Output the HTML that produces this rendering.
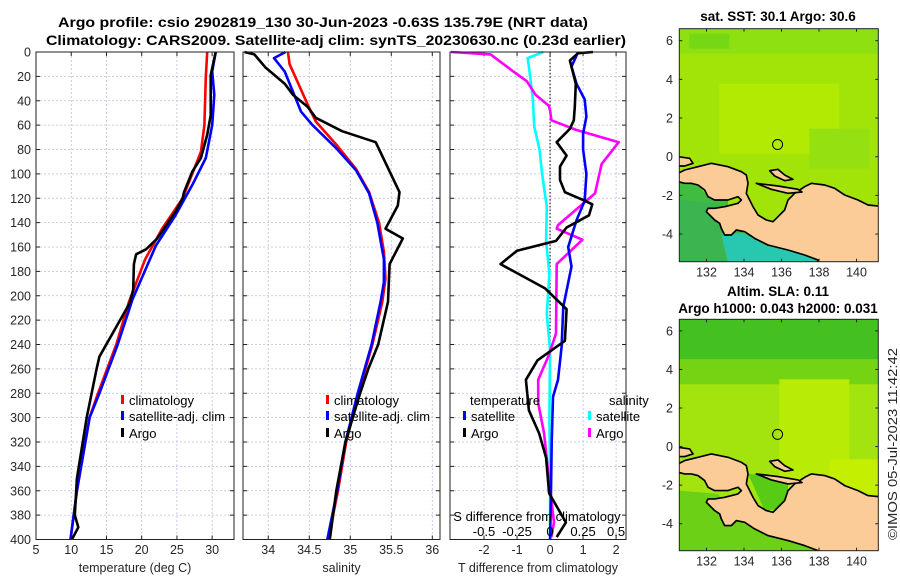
<!DOCTYPE html>
<html><head><meta charset="utf-8">
<style>
html,body{margin:0;padding:0;background:#fff;}
svg{display:block;font-family:"Liberation Sans",sans-serif;}
.tk{font-size:12.5px;fill:#262626;}
.ttl{font-size:13.5px;font-weight:bold;fill:#000;}
.lg{font-size:13px;fill:#000;}
</style></head>
<body>
<svg id="chart" width="900" height="580" viewBox="0 0 900 580" xmlns="http://www.w3.org/2000/svg">
<rect width="900" height="580" fill="#fff"/>
<text class="ttl" x="323" y="27" text-anchor="middle" textLength="530" lengthAdjust="spacingAndGlyphs">Argo profile: csio 2902819_130 30-Jun-2023 -0.63S 135.79E (NRT data)</text>
<text class="ttl" x="336" y="45" text-anchor="middle" textLength="580" lengthAdjust="spacingAndGlyphs">Climatology: CARS2009. Satellite-adj clim: synTS_20230630.nc (0.23d earlier)</text>
<g id="panels"></g>
<g id="maps"></g>
<text class="tk" transform="translate(897,444) rotate(-90)" text-anchor="middle" font-size="13" textLength="192" lengthAdjust="spacingAndGlyphs">©IMOS 05-Jul-2023 11:42:42</text>
</svg>
<script>
// ---- data ----
const tempDepths = [0,16,35,60,87,109,134,159,203,240,280,300,360,400];
const tempSat    = [30.5,30.0,30.3,30.0,29.1,27.2,24.8,22.0,18.7,16.6,14.0,12.6,10.8,9.9];
const climDepths = [0,21,60,82,120,145,170,205,240,280,300,360,400];
const tempClim   = [29.3,29.1,28.9,28.4,25.8,22.9,20.5,18.2,16.4,13.8,12.6,10.8,9.9];
const argoDepths = [0,19,52,68,87,98,115,120,131,153,162,166,174,195,206,250,260,300,350,380,390,400];
const tempArgo   = [30.5,29.8,29.8,29.3,28.4,27.2,26.0,25.8,24.8,22.2,20.6,19.2,18.9,18.8,18.3,14.0,13.6,12.2,10.8,10.5,11.0,10.1];

const salClimDepths = [0,10,46,57,76,96,115,140,164,186,205,240,280,320,360,400];
const salClim       = [34.24,34.26,34.5,34.58,34.83,35.07,35.23,35.35,35.41,35.43,35.39,35.27,35.1,34.95,34.85,34.73];
const salSatDepths  = [0,5,16,49,60,79,97,116,140,170,189,205,240,280,320,360,400];
const salSat        = [34.21,34.07,34.2,34.4,34.54,34.83,35.07,35.23,35.33,35.41,35.41,35.37,35.26,35.09,34.94,34.84,34.72];
const salArgoDepths = [0,2,13,26,35,45,54,65,74,115,126,145,153,174,205,240,260,280,320,360,400];
const salArgo       = [33.71,33.83,33.97,34.2,34.3,34.48,34.58,34.9,35.31,35.6,35.58,35.43,35.64,35.48,35.46,35.34,35.22,35.12,34.94,34.83,34.75];

const dTSatDepths = [0,12,26,39,53,67,80,100,122,138,160,176,209,242,269,283,320,360,400];
const dTSat       = [0.85,0.65,0.8,1.05,1.1,1.0,1.0,1.1,1.05,0.8,0.55,0.65,0.4,0.35,0.24,0.09,0.05,0.03,0.0];
const dTArgoDepths= [0,1,7,26,45,56,63,74,85,94,105,115,122,125,134,144,155,163,174,194,211,237,253,269,294,313,333,362,386,398];
const dTArgo      = [1.3,0.85,0.6,0.78,0.75,0.72,0.6,0.2,0.5,0.3,0.3,0.45,1.05,1.28,1.18,0.5,0.18,-1.0,-1.5,-0.15,0.5,0.45,-0.38,-0.73,-0.64,-0.33,-0.12,-0.03,0.48,0.2];
const dSSatDepths = [0,5,12,39,61,80,100,127,155,182,215,245,300,350,400];
const dSSat       = [-0.05,-0.17,-0.16,-0.13,-0.12,-0.08,-0.06,-0.025,-0.03,-0.005,-0.025,0.0,-0.005,0.0,0.0];
const dSArgoDepths= [0,2,15,24,35,44,48,56,64,74,92,116,142,145,154,174,231,249,269,288,313,349,386,398];
const dSArgo      = [-0.75,-0.45,-0.29,-0.175,-0.11,-0.01,0,0.01,0.2,0.52,0.39,0.34,0.06,0.05,0.245,0.05,0.045,-0.01,-0.09,-0.09,-0.045,-0.01,0.03,0.01];

const depthTicks = [0,20,40,60,80,100,120,140,160,180,200,220,240,260,280,300,320,340,360,380,400];
const tempTicks = [5,10,15,20,25,30];
const salTicks = [34,34.5,35,35.5,36];
const dTTicks = [-2,-1,0,1,2];
const dSTicks = [-0.5,-0.25,0,0.25,0.5];
const dSTickLabels = ["-0.5","-0.25","0","0.25","0.5"];
const latTicks = [6,4,2,0,-2,-4];
const lonTicks = [132,134,136,138,140];
const argoLon = [135.79];
const argoLat = [0.63];

// ---- helpers ----
const NS='http://www.w3.org/2000/svg';
function mk(tag, attrs, parent){const e=document.createElementNS(NS,tag);for(const k in attrs)e.setAttribute(k,attrs[k]);parent.appendChild(e);return e;}
const TOP=52, BOT=539.5;
const yD = d => TOP + d*(BOT-TOP)/400;
const panelsG=document.getElementById('panels');

function makePanel(name,x0,x1,vmin,vmax,ticks,labels,xtitle){
  const g=mk('g',{},panelsG);
  
  
  const sx = v => x0 + (v-vmin)/(vmax-vmin)*(x1-x0);
  depthTicks.forEach(d=>{
    const l=mk('line',{x1:x0,x2:x1,y1:yD(d),y2:yD(d),stroke:'#b8bfe0','stroke-width':0.8,'stroke-dasharray':'2,2'},g);
    
    
    mk('line',{x1:x0,x2:x0+4,y1:yD(d),y2:yD(d),stroke:'#222'},g);
    mk('line',{x1:x1,x2:x1-4,y1:yD(d),y2:yD(d),stroke:'#222'},g);
  });
  ticks.forEach((v,i)=>{
    const x=sx(v);
    const l=mk('line',{x1:x,x2:x,y1:TOP,y2:BOT,stroke:'#b8bfe0','stroke-width':0.8,'stroke-dasharray':'2,2'},g);
    
    
    mk('line',{x1:x,x2:x,y1:BOT,y2:BOT-4,stroke:'#222'},g);
    mk('line',{x1:x,x2:x,y1:TOP,y2:TOP+4,stroke:'#222'},g);
    const t=mk('text',{x:x,y:554,'text-anchor':'middle',class:'tk'},g);
    
    
    t.textContent=labels?labels[i]:String(v);
  });
  const t=mk('text',{x:(x0+x1)/2,y:572,'text-anchor':'middle',class:'tk','font-size':13},g);
  
  
  t.textContent=xtitle;
  return {g,sx};
}
function frame(g,x0,x1){
  const r=mk('rect',{x:x0,y:TOP,width:x1-x0,height:BOT-TOP,fill:'none',stroke:'#222','stroke-width':1},g);
  
  
}
function line(g,sx,depths,vals,color,name){
  const pts=vals.map((v,i)=>sx(v).toFixed(1)+','+yD(depths[i]).toFixed(1)).join(' ');
  const p=mk('polyline',{points:pts,fill:'none',stroke:color,'stroke-width':2.6,'stroke-linejoin':'round'},g);
  
  
}
function legend(g,x,y,color,label,name){
  if(color){const m=mk('rect',{x:x,y:y-10,width:3,height:9,fill:color},g);
    
    }
  const t=mk('text',{x:x+8,y:y,class:'lg'},g);
  
  
  t.textContent=label;
}

depthTicks.forEach(d=>{
  const t=mk('text',{x:31,y:yD(d)+4.5,'text-anchor':'end',class:'tk'},panelsG);
  
  
  t.textContent=String(d);
});

const P1=makePanel('temperature-panel',36,234,5,33.1,tempTicks,null,'temperature (deg C)');
line(P1.g,P1.sx,climDepths,tempClim,'#ff0000','climatology-temp-line');
line(P1.g,P1.sx,tempDepths,tempSat,'#0000ff','satellite-temp-line');
line(P1.g,P1.sx,argoDepths,tempArgo,'#000000','argo-temp-line');
frame(P1.g,36,234);
legend(P1.g,121,405,'#ff0000','climatology','legend-climatology');
legend(P1.g,121,421,'#0000ff','satellite-adj. clim','legend-satellite');
legend(P1.g,121,438,'#000000','Argo','legend-argo');

const P2=makePanel('salinity-panel',243,440,33.692,36.094,salTicks,null,'salinity');
line(P2.g,P2.sx,salClimDepths,salClim,'#ff0000','climatology-sal-line');
line(P2.g,P2.sx,salSatDepths,salSat,'#0000ff','satellite-sal-line');
line(P2.g,P2.sx,salArgoDepths,salArgo,'#000000','argo-sal-line');
frame(P2.g,243,440);
legend(P2.g,326,405,'#ff0000','climatology','legend-climatology-2');
legend(P2.g,326,421,'#0000ff','satellite-adj. clim','legend-satellite-2');
legend(P2.g,326,438,'#000000','Argo','legend-argo-2');

const P3=makePanel('difference-panel',450,626,-3.03,2.3,dTTicks,null,'T difference from climatology');
const sxS = v => P3.sx(v*4);
const zl=mk('line',{x1:P3.sx(0),x2:P3.sx(0),y1:TOP,y2:BOT,stroke:'#000','stroke-width':1,'stroke-dasharray':'1.5,2'},P3.g);


line(P3.g,sxS,dSSatDepths,dSSat,'#00ffff','satellite-sal-diff-line');
line(P3.g,sxS,dSArgoDepths,dSArgo,'#ff00ff','argo-sal-diff-line');
line(P3.g,P3.sx,dTSatDepths,dTSat,'#0000ff','satellite-temp-diff-line');
line(P3.g,P3.sx,dTArgoDepths,dTArgo,'#000000','argo-temp-diff-line');
frame(P3.g,450,626);
legend(P3.g,462,405,null,'temperature','legend-temperature-header');
legend(P3.g,463,421,'#0000ff','satellite','legend-temp-satellite');
legend(P3.g,463,438,'#000000','Argo','legend-temp-argo');
legend(P3.g,601,405,null,'salinity','legend-salinity-header');
legend(P3.g,588,421,'#00ffff','satellite','legend-sal-satellite');
legend(P3.g,588,438,'#ff00ff','Argo','legend-sal-argo');
{
  const t=mk('text',{x:537,y:521,'text-anchor':'middle',class:'lg'},P3.g);
  
  
  t.textContent='S difference from climatology';
  dSTicks.forEach((v,i)=>{
    const tt=mk('text',{x:sxS(v),y:536,'text-anchor':'middle',class:'lg'},P3.g);
    
    
    tt.textContent=dSTickLabels[i];
  });
}

// ---- maps ----
const mapsG=document.getElementById('maps');
const MX0=679.3, MX1=878.3;
const lonMin=130.55, lonMax=141.16;
function makeMap(name,y0,y1,latTop,latBot,bgFn,seaFn,title){
  const g=mk('g',{},mapsG);
  
  
  const sx = lo => MX0 + (lo-lonMin)/(lonMax-lonMin)*(MX1-MX0);
  const sy = la => y0 + (latTop-la)/(latTop-latBot)*(y1-y0);
  const cid=name+'-clip';
  const cp=mk('clipPath',{id:cid},g);
  mk('rect',{x:MX0,y:y0,width:MX1-MX0,height:y1-y0},cp);
  const inner=mk('g',{'clip-path':'url(#'+cid+')'},g);
  bgFn(inner,y0,y1);
  const zg=mk('g',{transform:`translate(${MX0-1.3},${y0+121.3}) scale(0.33333)`},inner);
  seaFn(zg);
  const land=mk('g',{fill:'#fbcc98',stroke:'#000','stroke-width':5,'stroke-linejoin':'round'},zg);
  
  
  const shapes=[
   'M0,70 L20,60 L60,50 L100,40 L150,50 L190,65 L205,75 L210,100 L205,130 L215,150 L225,170 L240,195 L265,210 L285,215 L300,200 L320,180 L330,150 L350,130 L380,110 L400,100 L440,105 L470,115 L500,135 L540,150 L570,165 L620,170 L620,360 L420,360 L420,330 L380,315 L330,300 L270,285 L230,265 L200,245 L175,240 L160,255 L140,255 L130,235 L125,220 L110,210 L95,195 L85,185 L90,175 L110,175 L140,170 L180,160 L190,150 L180,140 L150,150 L110,150 L90,140 L80,120 L60,105 L40,100 L20,100 L0,95 Z',
   'M0,20 L35,25 L45,40 L20,48 L0,48 Z',
   'M275,62 L300,58 L320,75 L345,88 L320,92 L290,78 Z',
   'M235,100 L300,108 L360,118 L372,126 L330,130 L280,118 Z'
  ];
  shapes.forEach(d=>{const p=mk('path',{d:d},land);});
  argoLon.forEach((lo,i)=>{
    const c=mk('circle',{cx:sx(lo),cy:sy(argoLat[i]),r:5,fill:'none',stroke:'#000','stroke-width':1},inner);
    
    
  });
  const fr=mk('rect',{x:MX0,y:y0,width:MX1-MX0,height:y1-y0,fill:'none',stroke:'#222','stroke-width':1},g);
  
  
  latTicks.forEach(la=>{
    const y=sy(la);
    mk('line',{x1:MX0,x2:MX0+3,y1:y,y2:y,stroke:'#222'},g);
    mk('line',{x1:MX1,x2:MX1-3,y1:y,y2:y,stroke:'#222'},g);
    const t=mk('text',{x:673,y:y+4.5,'text-anchor':'end',class:'tk'},g);
    
    
    t.textContent=String(la);
  });
  lonTicks.forEach(lo=>{
    const x=sx(lo);
    mk('line',{x1:x,x2:x,y1:y1,y2:y1-3,stroke:'#222'},g);
    mk('line',{x1:x,x2:x,y1:y0,y2:y0+3,stroke:'#222'},g);
    const t=mk('text',{x:x,y:y1+15,'text-anchor':'middle',class:'tk'},g);
    
    
    t.textContent=String(lo);
  });
  title.forEach(s=>{
    const t=mk('text',{x:778,y:s.y,'text-anchor':'middle',class:'ttl','font-size':13.5},g);
    
    
    t.textContent=s.t;
  });
}
function sstBg(g,y0,y1){
  mk('rect',{x:MX0,y:y0,width:200,height:y1-y0,fill:'#a2e408'},g);
  mk('rect',{x:MX0,y:y0,width:200,height:25,fill:'#8ee010'},g);
  mk('rect',{x:MX0+10,y:y0+5,width:40,height:15,fill:'#76d814'},g);
  mk('rect',{x:MX0+40,y:y0+55,width:120,height:70,fill:'#b2ea04'},g);
  mk('rect',{x:MX0+130,y:y0+100,width:60,height:40,fill:'#94e010'},g);
}
function sstSea(z){
  mk('path',{d:'M0,90 L60,105 L90,140 L110,150 L150,150 L150,350 L0,350 Z',fill:'#40bc40'},z);
  mk('path',{d:'M0,150 L120,160 L180,240 L240,270 L430,330 L430,350 L0,350 Z',fill:'#3cb450'},z);
  mk('path',{d:'M130,250 L200,250 L260,285 L400,320 L420,340 L150,340 Z',fill:'#28c8b0'},z);
}
function slaBg(g,y0,y1){
  mk('rect',{x:MX0,y:y0,width:200,height:y1-y0,fill:'#a4e40e'},g);
  mk('rect',{x:MX0,y:y0,width:200,height:40,fill:'#44c020'},g);
  mk('rect',{x:MX0,y:y0+40,width:200,height:25,fill:'#74d414'},g);
  mk('rect',{x:MX0+100,y:y0+60,width:70,height:150,fill:'#b8ec06'},g);
  mk('rect',{x:MX0+150,y:y0+140,width:50,height:60,fill:'#c4f000'},g);
}
function slaSea(z){
  mk('path',{d:'M0,150 L120,160 L180,240 L240,270 L430,330 L430,350 L0,350 Z',fill:'#6cd016'},z);
  mk('path',{d:'M210,100 L330,110 L330,200 L260,210 Z',fill:'#58cc14'},z);
}
makeMap('sst-map',28.7,261.7,6.62,-5.43,sstBg,sstSea,[{t:'sat. SST: 30.1 Argo: 30.6',y:21}]);
makeMap('sla-map',319.3,550.7,6.6,-5.4,slaBg,slaSea,[{t:'Altim. SLA: 0.11',y:296},{t:'Argo h1000: 0.043 h2000: 0.031',y:313}]);
</script>
</body></html>
